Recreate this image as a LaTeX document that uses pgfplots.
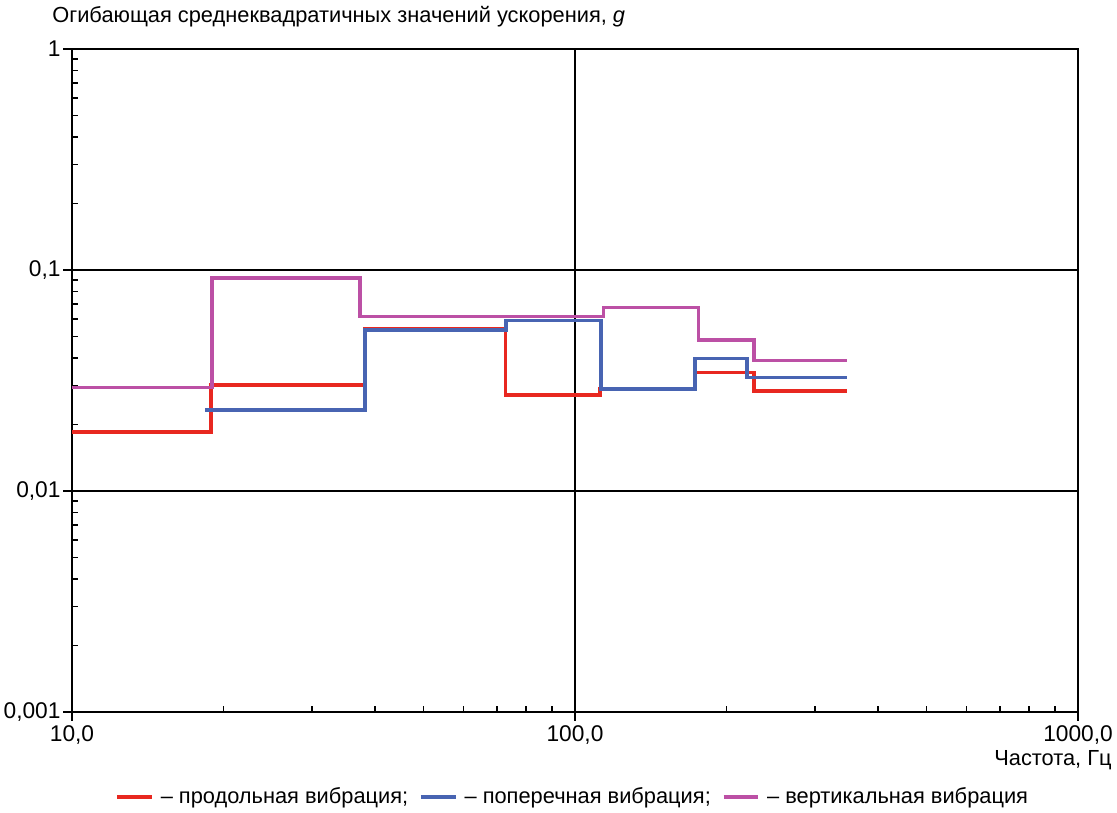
\documentclass[border=0pt]{standalone}
\usepackage{pgfplots}
\pgfplotsset{compat=1.18}
\usetikzlibrary{calc}
\usepackage{fontspec}
\setmainfont{Liberation Sans}
\definecolor{cred}{RGB}{232,40,32}
\definecolor{cblue}{RGB}{72,100,178}
\definecolor{cmag}{RGB}{188,80,165}
\newcommand{\lbl}{\fontsize{12}{14.5}\selectfont}
\begin{document}
\begin{tikzpicture}
\begin{axis}[
  name=ax,
  xmode=log, ymode=log,
  xmin=10, xmax=1000, ymin=0.001, ymax=1,
  scale only axis, clip=false,
  width=553.3pt, height=364.7pt,
  axis line style={line width=1.1pt},
  xtick={10,100,1000}, xticklabels={{10,0},{100,0},{1000,0}},
  ytick={0.001,0.01,0.1,1}, yticklabels={{0,001},{0,01},{0,1},{1}},
  tick pos=left,
  tick align=outside,
  major tick length=4.8pt,
  minor tick length=3.3pt,
  every tick/.style={black, line width=0.9pt},
  minor x tick style={yshift=3.3pt},
  minor y tick style={xshift=3.3pt},
  grid=major,
  major grid style={black, line width=0.8pt},
  tick label style={font=\fontsize{12.5}{15}\selectfont},
  yticklabel style={xshift=2pt},
  xticklabel style={yshift=1pt},
  legend style={at={(0.4985,-0.128)}, anchor=center, draw=none,
    font=\lbl, legend columns=3,
    /tikz/every even column/.append style={column sep=4pt}},
  legend image code/.code={\draw[#1] (0pt,0pt) -- (19pt,0pt);},
]
\addplot[cred, line width=2pt] coordinates {
  (10,0.0185) (18.9,0.0185) (18.9,0.0302) (38.2,0.0302) (38.2,0.054)
  (72.8,0.054) (72.8,0.0272) (112,0.0272) (112,0.0289) (173,0.0289)
  (173,0.0343) (227,0.0343) (227,0.0284) (347,0.0284)
};
\addlegendentry{\,-- продольная вибрация;}
\addplot[cblue, line width=2pt] coordinates {
  (18.4,0.0233) (38.2,0.0233) (38.2,0.0535) (73,0.0535) (73,0.059)
  (112.5,0.059) (112.5,0.0289) (173,0.0289) (173,0.0398) (220,0.0398)
  (220,0.0326) (347,0.0326)
};
\addlegendentry{\,-- поперечная вибрация;}
\addplot[cmag, line width=2pt] coordinates {
  (10,0.0294) (19,0.0294) (19,0.0917) (37.4,0.0917) (37.4,0.0615)
  (114,0.0615) (114,0.0676) (176,0.0676) (176,0.0482) (227,0.0482)
  (227,0.0389) (347,0.0389)
};
\addlegendentry{\,-- вертикальная вибрация}
\node[anchor=west, font=\lbl, inner sep=0pt] at (rel axis cs:-0.0199,1.048)
  {Огибающая среднеквадратичных значений ускорения, \textit{g}};
\node[anchor=east, font=\lbl, inner sep=0pt] at (rel axis cs:1.0338,-0.0724)
  {Частота, Гц};
\end{axis}
\pgfresetboundingbox
\path[use as bounding box] ($(ax.south west)+(-39.6pt,-55pt)$) rectangle ($(ax.south west)+(574.75pt,391.6pt)$);
\end{tikzpicture}
\end{document}
